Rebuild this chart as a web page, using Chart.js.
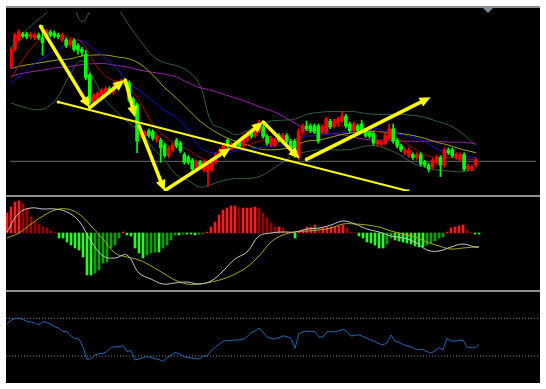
<!DOCTYPE html>
<html>
<head>
<meta charset="utf-8">
<script src="https://cdn.jsdelivr.net/npm/chart.js@4.4.1/dist/chart.umd.min.js"></script>
<style>
  html, body { margin: 0; padding: 0; background: #fff; }
  body { width: 546px; height: 389px; position: relative; overflow: hidden; }
  #frame { position: absolute; left: 6px; top: 6px; width: 534px; height: 377px; background: #000; }
  canvas { position: absolute; left: 6px; background: #000; }
  .sep { position: absolute; left: 6px; width: 534px; height: 2px; background: #8e8e8e; }
  #marker { position: absolute; left: 483px; top: 8px; width: 0; height: 0;
    border-left: 5px solid transparent; border-right: 5px solid transparent; border-top: 5px solid #7d8c9c; }
</style>
</head>
<body>
<div id="frame"></div>
<div class="sep" style="top:6px"></div>
<canvas id="main" width="534" height="187" style="top:8px"></canvas>
<div class="sep" style="top:195px"></div>
<canvas id="macd" width="534" height="93" style="top:197px"></canvas>
<div class="sep" style="top:290px"></div>
<canvas id="rsi" width="534" height="91" style="top:292px"></canvas>
<div id="marker"></div>
<script>
// candles, one per bar index 0..118
const open = [135,153,163,169,169,166,165,168,165,165,171,170,168,163,163,158,162,157,153,148,
  126,98,100,105,107,112,108,113,117,120,118,101,95,62,63,68,67,58,58,53,
  42,48,58,55,43,40,37,28,35,27,25,27,35,42,47,58,50,54,55,53,
  58,66,63,68,72,62,53,53,63,57,63,57,57,40,67,73,73,73,73,67,
  67,78,73,75,78,83,75,68,73,75,68,66,65,54,54,55,60,70,58,52,
  45,42,43,40,43,35,32,30,35,40,32,48,48,40,38,43,28,28,32];
const high = [155,170,173,171,171,171,170,170,178,174,173,172,170,170,165,164,164,159,155,152,
  128,107,109,112,114,114,116,120,122,122,120,103,97,69,68,70,69,64,60,55,
  52,55,60,57,45,42,39,37,37,37,34,39,45,50,55,60,56,56,57,64,
  67,68,75,79,74,64,62,60,65,65,65,59,59,70,75,78,75,75,75,74,
  82,80,80,82,88,85,77,77,75,79,70,68,67,59,58,65,75,75,60,54,
  50,50,45,45,45,37,34,39,42,42,50,50,50,45,45,45,33,32,39];
const low = [133,151,161,165,164,164,163,163,147,163,166,165,164,161,155,156,151,148,146,121,
  96,96,98,103,105,106,106,111,115,115,98,88,45,60,61,61,58,56,35,40,
  40,46,50,45,33,33,26,26,28,25,10,25,33,40,45,50,48,50,50,51,
  56,60,61,66,60,53,51,51,56,55,55,48,40,38,65,68,66,65,55,65,
  65,70,71,73,76,71,66,66,66,66,61,60,53,52,52,53,58,55,50,46,
  43,40,38,38,31,30,25,28,33,20,30,43,40,38,36,26,26,26,30];
const close = [153,168,171,167,166,169,168,165,160,172,168,167,166,168,157,162,153,152,150,123,
  98,105,107,110,112,108,114,118,120,117,100,90,57,67,66,63,60,62,50,42,
  50,53,52,47,35,35,28,35,30,35,32,37,43,48,53,52,54,52,52,62,
  65,62,73,77,62,55,60,58,58,63,57,50,43,67,73,70,68,67,57,72,
  80,72,78,80,83,73,68,75,68,68,63,62,55,57,56,63,70,57,52,48,
  48,48,40,43,33,32,28,37,40,32,48,45,42,43,43,28,31,30,37];

// indicator lines, read every third bar
const lineIdx = [0,3,6,9,12,15,18,21,24,27,30,33,36,39,42,45,48,51,54,57,
  60,63,66,69,72,75,78,81,84,87,90,93,96,99,102,105,108,111,114,117,118];
const bbUpper = [154,169,181,191,202,204,182,200,213,197,178,161,146,139,136,130,115,76,70,64,
  68,74,78,79,80,85,87,88,88,88,86,85,85,85,84,82,78,74,67,56,53];
const bbLower = [97,93,90,92,104,127,141,122,100,87,76,67,50,37,22,16,9,12,16,18,
  18,20,27,35,43,46,48,48,48,49,52,52,48,42,34,30,27,26,25,27,27];
const maRed = [123,142,158,167,168,165,160,140,125,119,113,96,75,62,54,48,40,37,44,51,
  53,57,58,57,58,65,70,72,73,72,70,67,64,58,50,43,40,40,39,38,38];
const maBlue = [118,127,138,146,153,160,162,153,144,132,118,109,99,89,82,68,50,45,43,47,
  48,50,52,53,57,62,63,65,66,68,69,70,66,64,61,57,49,45,42,40,40];
const maOlive = [133,136,138,140,142,143,146,147,147,145,143,137,126,113,102,90,78,69,62,57,
  53,49,48,49,52,57,58,61,64,66,67,67,66,65,63,60,56,53,49,46,45];
const maPurple = [125,128,130,132,134,135,137,138,138,136,134,131,129,127,124,118,113,110,106,102,
  98,93,89,83,76,69,66,65,64,61,59,58,58,57,57,57,57,56,56,55,55];
const priceLevel = 36;

// hand drawn arrows and trend line: [bar index, price]
const arrowFrom = [[7.5,177],[20,92],[29,121],[32.5,73],[39.25,6],[56.5,53],[64,77],[75,38]];
const arrowTo = [[20,92],[28.75,121],[31.5,82],[39,5],[55.75,50],[64,77],[73.25,39],[106.5,103]];
const trendLine = [[12,98],[100.75,5]];

// MACD
const macdHist = [20,26,31,32,29,25,16,11,9,6,5,2,0.5,-5,-5,-9,-12,-15,-17,-24,
  -42,-42,-40,-37,-30,-29,-15,-12,-5,1,-2,-3,-15,-20,-25,-22,-20,-19,-19,-15,
  -12,-7,-2,-2,-1,-1,-1,-2,-1,-0.5,1,6,11,18,23,25,27,27,25,25,
  25,25,26,25,20,15,10,6,6,5,1,0.3,-5,1,3,6,6,8,5,5,
  6,6,6,7,8,5,1,0.3,-3,-5,-9,-10,-12,-15,-15,-11,-5,-7,-8,-9,
  -10,-11,-13,-14,-14,-12,-10,-8,-5,-4,1,5,6,7,8,3,0.5,-1,-1];
const macdMain = [1,20,25,24,24,21,12,-8,-23,-25,-22,-40,-46,-51,-50,-49,-51,-48,-38,-26,
  -19,-3,0,1,1,4,5,8,12,9,4,1,-3,-5,-9,-17,-18,-14,-11,-14,-14];
const macdSignal = [-5,0,9,17,23,24,19,7,-6,-20,-24,-27,-33,-40,-47,-51,-51,-49,-46,-41,
  -34,-23,-9,-2,1,2,3,5,9,9,8,6,2,-1,-4,-9,-13,-16,-15,-14,-14];

// RSI
const rsi = [64,68.2,69.8,70,68.7,66.6,66.1,65,62.9,66.6,65.5,63.4,60.8,59.4,56,56,51.2,48.8,48,39.5,
  26.3,27.2,31,32.5,32.9,34.6,39,39.9,39.9,41.1,34.8,35.8,25.8,26.8,28.4,29.3,28.4,27.3,26.3,24.2,
  27.9,31,33.7,32.7,30,28.4,28.2,27.3,26.8,30,30,35.3,39,42.4,45.9,46.4,46.4,47,47,47.5,
  50.5,54.6,56.5,59.7,55.5,50.2,48.6,48,49.6,51.4,50.5,48.6,38.2,53.9,55.5,56.5,55.8,55.8,50.2,50.2,
  55.5,56,55.5,56.9,58.1,56,51.2,51.8,52.6,50.7,48.8,47,45.4,43,41.9,43.8,52.3,45.9,44.5,42.2,
  40.8,39.9,37.4,36.6,36.9,34.6,33.2,35.3,39,36.6,48.8,45.9,45.9,46.4,47,39.5,38.8,38.8,42.4];
const rsiLevels = [70, 30];

const X_MIN = -0.25, X_MAX = 133.25;

const baseOptions = (yMin, yMax) => ({
    responsive: false,
    animation: false,
    devicePixelRatio: 1,
    events: [],
    layout: { padding: 0 },
    plugins: { legend: { display: false }, tooltip: { enabled: false } },
    scales: {
        x: { type: 'linear', display: false, min: X_MIN, max: X_MAX, offset: false },
        y: { type: 'linear', display: false, min: yMin, max: yMax }
    }
});

const lineSet = (values, color, order) => ({
    type: 'line',
    data: lineIdx.map((ix, k) => ({ x: ix, y: values[k] })),
    borderColor: color,
    borderWidth: 1,
    pointRadius: 0,
    tension: 0.4,
    order: order
});

// arrows drawn on the price scale
const arrowPlugin = {
    id: 'arrows',
    afterDatasetsDraw(chart) {
        const { ctx, chartArea, scales: { x, y } } = chart;
        ctx.save();
        ctx.beginPath();
        ctx.rect(chartArea.left, chartArea.top, chartArea.width, chartArea.height);
        ctx.clip();
        ctx.strokeStyle = '#ffff00';
        ctx.fillStyle = '#ffff00';
        ctx.lineCap = 'round';
        arrowFrom.forEach((p, k) => {
            const x1 = x.getPixelForValue(p[0]), y1 = y.getPixelForValue(p[1]);
            const x2 = x.getPixelForValue(arrowTo[k][0]), y2 = y.getPixelForValue(arrowTo[k][1]);
            const a = Math.atan2(y2 - y1, x2 - x1);
            const head = 11, half = 5;
            const bx = x2 - head * Math.cos(a), by = y2 - head * Math.sin(a);
            ctx.lineWidth = 3.5;
            ctx.beginPath();
            ctx.moveTo(x1, y1);
            ctx.lineTo(bx, by);
            ctx.stroke();
            ctx.beginPath();
            ctx.moveTo(x2, y2);
            ctx.lineTo(bx + half * Math.sin(a), by - half * Math.cos(a));
            ctx.lineTo(bx - half * Math.sin(a), by + half * Math.cos(a));
            ctx.closePath();
            ctx.fill();
        });
        ctx.restore();
    }
};

const bars = close.map((c, i) => i);
const candleColors = close.map((c, i) => c > open[i] ? '#ff0000' : '#00ff00');

new Chart(document.getElementById('main'), {
    type: 'bar',
    data: {
        datasets: [
            {
                type: 'line',
                data: trendLine.map(p => ({ x: p[0], y: p[1] })),
                borderColor: '#ffff00',
                borderWidth: 2,
                pointRadius: 2,
                pointStyle: 'rect',
                pointBackgroundColor: '#ffff00',
                pointBorderWidth: 0,
                order: 0
            },
            {
                data: bars.map(i => ({ x: i, y: [open[i], close[i]] })),
                backgroundColor: candleColors,
                barThickness: 3,
                minBarLength: 1,
                grouped: false,
                order: 1
            },
            {
                data: bars.map(i => ({ x: i, y: [low[i], high[i]] })),
                backgroundColor: candleColors,
                barThickness: 1,
                grouped: false,
                order: 2
            },
            lineSet(maRed, '#b00000', 3),
            lineSet(maBlue, '#1515c8', 4),
            lineSet(maOlive, '#a3a314', 5),
            lineSet(maPurple, '#a01fb4', 6),
            lineSet(bbUpper, '#2e6242', 7),
            lineSet(bbLower, '#2e6242', 7),
            {
                type: 'line',
                data: [{ x: X_MIN, y: priceLevel }, { x: X_MAX, y: priceLevel }],
                borderColor: '#6a6a6a',
                borderWidth: 1,
                pointRadius: 0,
                order: 9
            }
        ]
    },
    options: baseOptions(5, 192),
    plugins: [arrowPlugin]
});

const histColors = macdHist.map((v, i) => {
    const prev = i ? macdHist[i - 1] : 0;
    if (v >= 0) return v >= prev ? '#ff1a1a' : '#a00000';
    return v <= prev ? '#22ff22' : '#00a400';
});

new Chart(document.getElementById('macd'), {
    type: 'bar',
    data: {
        datasets: [
            lineSet(macdMain, '#c4c4c4', 0),
            lineSet(macdSignal, '#a8a812', 1),
            {
                data: bars.map(i => ({ x: i, y: macdHist[i] })),
                backgroundColor: histColors,
                barThickness: 2,
                grouped: false,
                order: 2
            }
        ]
    },
    options: baseOptions(-57, 36)
});

new Chart(document.getElementById('rsi'), {
    type: 'line',
    data: {
        datasets: [
            {
                data: bars.map(i => ({ x: i, y: rsi[i] })),
                borderColor: '#2266b4',
                borderWidth: 1,
                pointRadius: 0,
                tension: 0,
                order: 0
            },
            ...rsiLevels.map(level => ({
                data: [{ x: X_MIN, y: level }, { x: X_MAX, y: level }],
                borderColor: '#8a8a8a',
                borderWidth: 1,
                borderDash: [1, 2],
                pointRadius: 0,
                order: 1
            }))
        ]
    },
    options: baseOptions(1.4, 97.9)
});
</script>
</body>
</html>
